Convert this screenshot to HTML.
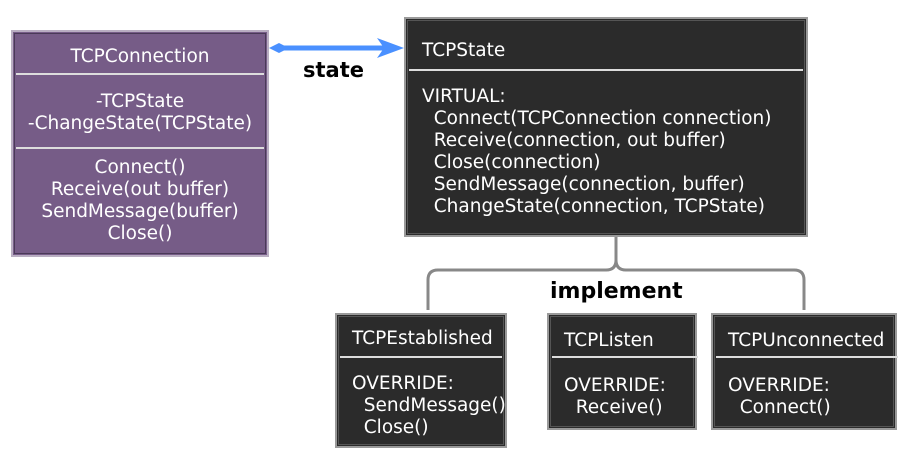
<!DOCTYPE html>
<html><head><meta charset="utf-8"><style>
body{margin:0;width:908px;height:458px;background:#fff;position:relative;overflow:hidden;font-family:"DejaVu Sans","Liberation Sans",sans-serif;font-size:18.5px;}
.b{position:absolute;box-sizing:border-box;color:#fff;}
.dark{background:#2b2b2b;border:2px solid #9a9a9a;outline:1px solid #555;outline-offset:-4px;}
.pur{background:#765c87;border:2px solid #b9aec2;outline:1px solid #4a3a58;outline-offset:-4px;}
.t{position:absolute;white-space:pre;line-height:22px;}
.sep{position:absolute;left:3px;right:3px;height:2px;background:#ddd;}
.lbl{position:absolute;font-weight:bold;color:#000;}
</style></head><body>
<svg width="908" height="458" style="position:absolute;left:0;top:0">
<line x1="280" y1="48" x2="392" y2="48" stroke="#4a90ff" stroke-width="5"/>
<polygon points="269,48 279,43 289,48 279,53" fill="#4a90ff"/>
<polygon points="404,48 377,38 384,48 377,58" fill="#4a90ff"/>
<path d="M616,237 V260 Q616,270 606,270 H438 Q428,270 428,280 V310 M616,260 Q616,270 626,270 H794 Q804,270 804,280 V310" fill="none" stroke="#888" stroke-width="3"/>
</svg>
<div class="lbl" style="left:303px;top:58px;font-size:21px">state</div>
<div class="lbl" style="left:550px;top:279px;font-size:22px">implement</div>

<div class="b pur" style="left:11px;top:30px;width:258px;height:227px">
<div class="t" style="left:0;right:0;text-align:center;top:14px">TCPConnection</div>
<div class="sep" style="top:41px"></div>
<div class="t" style="left:0;right:0;text-align:center;top:59px">-TCPState
-ChangeState(TCPState)</div>
<div class="sep" style="top:115px"></div>
<div class="t" style="left:0;right:0;text-align:center;top:125px">Connect()
Receive(out buffer)
SendMessage(buffer)
Close()</div>
</div>

<div class="b dark" style="left:404px;top:17px;width:404px;height:220px">
<div class="t" style="left:16px;top:21px">TCPState</div>
<div class="sep" style="top:50px"></div>
<div class="t" style="left:16px;top:67px">VIRTUAL:
  Connect(TCPConnection connection)
  Receive(connection, out buffer)
  Close(connection)
  SendMessage(connection, buffer)
  ChangeState(connection, TCPState)</div>
</div>

<div class="b dark" style="left:335px;top:313px;width:172px;height:135px">
<div class="t" style="left:15px;top:13px">TCPEstablished</div>
<div class="sep" style="top:41px"></div>
<div class="t" style="left:15px;top:58px">OVERRIDE:
  SendMessage()
  Close()</div>
</div>

<div class="b dark" style="left:547px;top:313px;width:150px;height:117px">
<div class="t" style="left:15px;top:15px">TCPListen</div>
<div class="sep" style="top:41px;right:-3px"></div>
<div class="t" style="left:15px;top:60px">OVERRIDE:
  Receive()</div>
</div>

<div class="b dark" style="left:711px;top:313px;width:186px;height:117px">
<div class="t" style="left:15px;top:15px">TCPUnconnected</div>
<div class="sep" style="top:41px;right:-3px"></div>
<div class="t" style="left:15px;top:60px">OVERRIDE:
  Connect()</div>
</div>
</body></html>
